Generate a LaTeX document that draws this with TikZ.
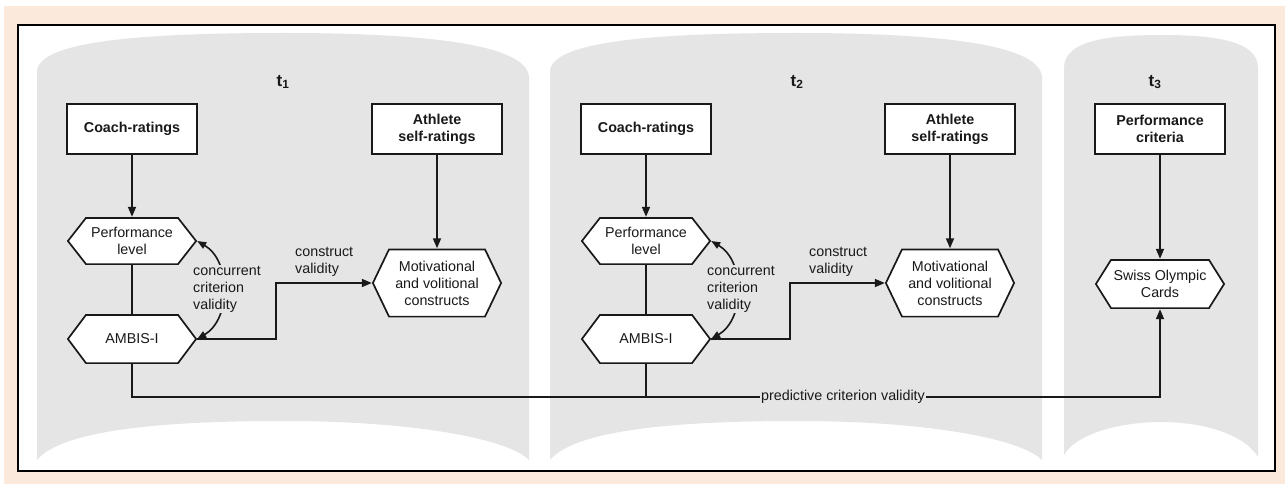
\documentclass[tikz,border=0pt]{standalone}
\usepackage{fontspec}
\setmainfont{Liberation Sans}
\usetikzlibrary{arrows.meta}
\definecolor{peach}{RGB}{251,233,219}
\definecolor{panelgray}{RGB}{229,229,229}
\definecolor{lc}{RGB}{25,25,25}
\newcommand\dgfs{\fontsize{14.3pt}{17pt}\selectfont}
\newcommand\tfs{\fontsize{17pt}{20pt}\selectfont\bfseries}
\begin{document}
\begin{tikzpicture}[x=1pt,y=-1pt,
  hexind/.store in=\hexind, hexind=19pt,
  box/.style={draw=lc, line width=1.9pt, fill=white, minimum width=130pt, minimum height=50pt,
    inner sep=0pt, align=center, font=\dgfs\bfseries, text=lc},
  hexnode/.style={minimum width=130pt, inner sep=0pt, align=center, font=\dgfs, text=lc,
    path picture={
      \path[fill=white, draw=lc, line width=1.7pt]
        ([xshift=0.9pt]path picture bounding box.west)
        -- ([xshift=\hexind, yshift=-0.9pt]path picture bounding box.north west)
        -- ([xshift=-\hexind, yshift=-0.9pt]path picture bounding box.north east)
        -- ([xshift=-0.9pt]path picture bounding box.east)
        -- ([xshift=-\hexind, yshift=0.9pt]path picture bounding box.south east)
        -- ([xshift=\hexind, yshift=0.9pt]path picture bounding box.south west) -- cycle;}},
  arr/.style={draw=lc, line width=1.7pt, -{Triangle[length=10pt,width=8pt]}},
  plain/.style={draw=lc, line width=1.7pt},
  dbl/.style={draw=lc, line width=1.6pt, {Triangle[length=9pt,width=7pt]}-{Triangle[length=9pt,width=7pt]}},
  lbl/.style={font=\dgfs, text=lc, inner sep=1pt, align=left},
  tlab/.style={font=\tfs, text=lc, inner sep=0pt},
  panel/.style={fill=panelgray}
]
\useasboundingbox (0,0) rectangle (1285,484);
\fill[white] (0,0) rectangle (1285,484);
\fill[peach] (4,6) rectangle (1285,484);
\draw[line width=2pt, fill=white] (18,25) rectangle (1275,471);

% panels
\fill[panel] (37,460) -- (37,72) .. controls (37,40) and (150,33) .. (283,33)
  .. controls (430,33) and (529,45) .. (529,78) -- (529,460)
  .. controls (510,440) and (420,421) .. (283,421)
  .. controls (150,421) and (60,432) .. (37,460) -- cycle;
\fill[panel, xshift=513pt] (37,460) -- (37,72) .. controls (37,40) and (150,33) .. (283,33)
  .. controls (430,33) and (529,45) .. (529,78) -- (529,460)
  .. controls (510,440) and (420,421) .. (283,421)
  .. controls (150,421) and (60,432) .. (37,460) -- cycle;
\fill[panel] (1064,455) -- (1064,68) .. controls (1064,40) and (1110,35) .. (1161,35)
  .. controls (1212,35) and (1258,40) .. (1258,68) -- (1258,457)
  .. controls (1245,435) and (1205,422) .. (1161,422)
  .. controls (1117,422) and (1075,435) .. (1064,455) -- cycle;

% time labels
\node[tlab] (t1) at (283,82) {t\textsubscript{1}};
\node[tlab] (t2) at (797,82) {t\textsubscript{2}};
\node[tlab] (t3) at (1155,82) {t\textsubscript{3}};

% t1
\node[box] (coach1) at (132,129) {Coach-ratings};
\node[box] (ath1) at (437,129) {Athlete\\self-ratings};
\node[hexnode, minimum height=48pt] (perf1) at (132,241) {Performance\\level};
\node[hexnode, minimum height=50pt] (ambis1) at (132,339) {AMBIS-I};
\node[hexnode, minimum height=69pt, hexind=17pt] (mot1) at (437,283) {Motivational\\and volitional\\constructs};

% t2
\node[box] (coach2) at (646,129) {Coach-ratings};
\node[box] (ath2) at (950,129) {Athlete\\self-ratings};
\node[hexnode, minimum height=48pt] (perf2) at (646,241) {Performance\\level};
\node[hexnode, minimum height=50pt] (ambis2) at (646,339) {AMBIS-I};
\node[hexnode, minimum height=69pt, hexind=17pt] (mot2) at (950,283) {Motivational\\and volitional\\constructs};

% t3
\node[box] (crit) at (1160,129) {Performance\\criteria};
\node[hexnode, minimum height=50pt, hexind=16pt] (swiss) at (1160,284) {Swiss Olympic\\Cards};

% connectors t1
\draw[arr] (coach1) -- (perf1);
\draw[arr] (ath1) -- (mot1);
\draw[plain] (perf1) -- (ambis1);
\draw[dbl] (ambis1.east) .. controls +(34,-20) and +(34,20) .. (perf1.east);
\node[lbl, fill=panelgray, anchor=west] (conc1) at (192,289) {concurrent\\criterion\\validity};
\draw[arr] (ambis1.east) -- ([xshift=79pt]ambis1.east) |- (mot1.west);
\node[lbl, anchor=west] (cons1) at (294,262) {construct\\validity};

% connectors t2
\draw[arr] (coach2) -- (perf2);
\draw[arr] (ath2) -- (mot2);
\draw[plain] (perf2) -- (ambis2);
\draw[dbl] (ambis2.east) .. controls +(34,-20) and +(34,20) .. (perf2.east);
\node[lbl, fill=panelgray, anchor=west] (conc2) at (706,289) {concurrent\\criterion\\validity};
\draw[arr] (ambis2.east) -- ([xshift=79pt]ambis2.east) |- (mot2.west);
\node[lbl, anchor=west] (cons2) at (808,262) {construct\\validity};

% t3
\draw[arr] (crit) -- (swiss);

% predictive
\coordinate (pj) at (132,397);
\draw[arr] (ambis1.south) -- (pj) -| (swiss.south);
\draw[plain] (ambis2.south) -- (ambis2.south |- pj);
\node[lbl, fill=panelgray] (pred) at (843,397) {predictive criterion validity};
\end{tikzpicture}
\end{document}
